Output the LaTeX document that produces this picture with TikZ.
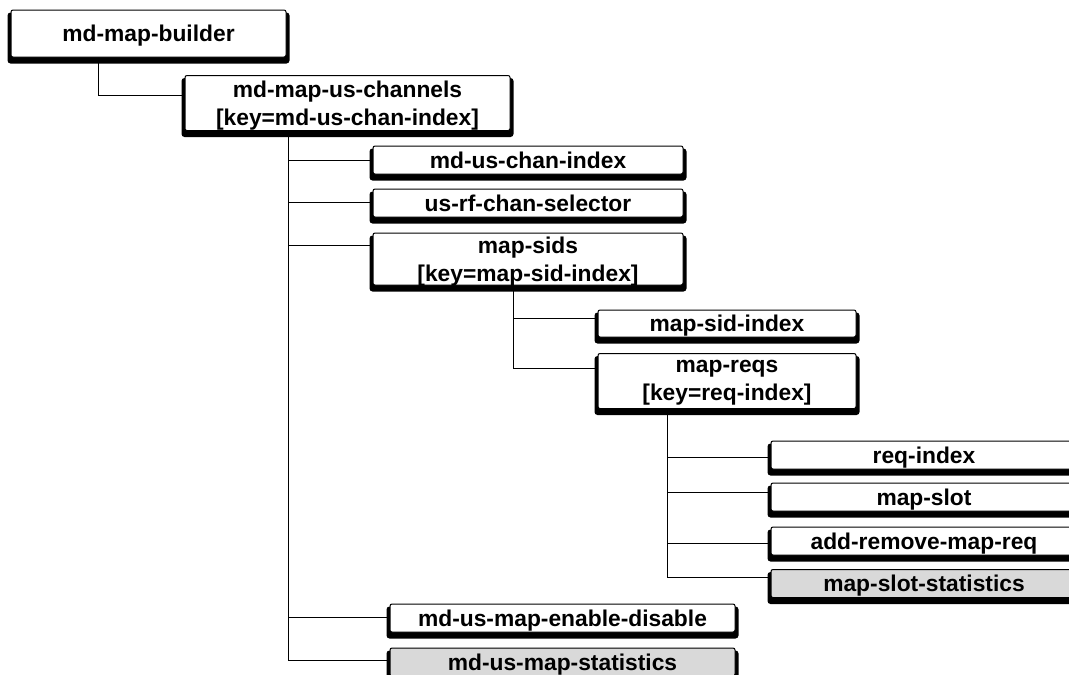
\documentclass[tikz,border=0pt]{standalone}
\usepackage{fontspec}
\setmainfont{Liberation Sans}
\usetikzlibrary{backgrounds}
\begin{document}
\begin{tikzpicture}[x=1pt,y=-1pt,
  every node/.style={font=\fontsize{22.8}{28}\selectfont\bfseries},
  entity/.style={draw=black, line width=1pt, fill=white, rounded corners=2pt,
                 inner sep=0pt, align=center, text depth=0.5pt},
  statbox/.style={entity, fill=gray!30},
  onebox/.style={minimum height=28pt},
  twobox/.style={minimum height=55pt},
  link/.style={draw=black, line width=0.9pt}]
\useasboundingbox (0,0) rectangle (1069,675);
\clip (0,0) rectangle (1069,675);

% object tree
\node[entity, minimum width=275pt, minimum height=47pt] (builder) at (148.5,33.5) {md-map-builder};
\node[entity, twobox, minimum width=325pt] (chan) at (347.5,103) {md-map-us-channels\\{}[key=md-us-chan-index]};
\node[entity, onebox, minimum width=310pt] (chanidx) at (528,160) {md-us-chan-index};
\node[entity, onebox, minimum width=310pt] (rfsel) at (528,203) {us-rf-chan-selector};
\node[entity, minimum width=310pt, minimum height=52pt] (sids) at (528,259) {map-sids\\{}[key=map-sid-index]};
\node[entity, minimum width=258pt, minimum height=27pt] (sidx) at (727,323.5) {map-sid-index};
\node[entity, twobox, minimum width=258pt] (reqs) at (727,381) {map-reqs\\{}[key=req-index]};
\node[entity, onebox, minimum width=306pt] (reqidx) at (924,455) {req-index};
\node[entity, onebox, minimum width=306pt] (slot) at (924,497) {map-slot};
\node[entity, onebox, minimum width=306pt] (addrm) at (924,541) {add-remove-map-req};
\node[statbox, onebox, minimum width=306pt] (slotstats) at (924,583.5) {map-slot-statistics};
\node[entity, onebox, minimum width=345pt] (enable) at (562.5,618) {md-us-map-enable-disable};
\node[statbox, onebox, minimum width=345pt] (mapstats) at (562.5,662) {md-us-map-statistics};

% heavy shadow under every box
\begin{scope}[on background layer]
  \foreach \n in {builder,chan,chanidx,rfsel,sids,sidx,reqs,reqidx,slot,addrm,slotstats,enable,mapstats}
    \fill[black, rounded corners=3pt]
      ([xshift=-3pt,yshift=-3pt]\n.north west) rectangle ([xshift=3pt,yshift=-6pt]\n.south east);
\end{scope}

% trunks
\coordinate (t0) at (98,95);
\coordinate (t1) at (288,660);
\coordinate (t2) at (513,368);
\coordinate (t3) at (667,577);

\draw[link] (builder.south -| t0) -- (t0) -- (chan.west |- t0);

\draw[link] (chan.south -| t1) -- (t1) -- (mapstats.west |- t1);
\foreach \n/\yy in {chanidx/160, rfsel/202, sids/245, enable/617}
  \draw[link] (t1 |- 0,\yy) -- (\n.west |- 0,\yy);

\draw[link] (sids.south -| t2) -- (t2) -- (reqs.west |- t2);
\draw[link] (t2 |- 0,318) -- (sidx.west |- 0,318);

\draw[link] (reqs.south -| t3) -- (t3) -- (slotstats.west |- t3);
\foreach \n/\yy in {reqidx/457, slot/492, addrm/543}
  \draw[link] (t3 |- 0,\yy) -- (\n.west |- 0,\yy);
\end{tikzpicture}
\end{document}
